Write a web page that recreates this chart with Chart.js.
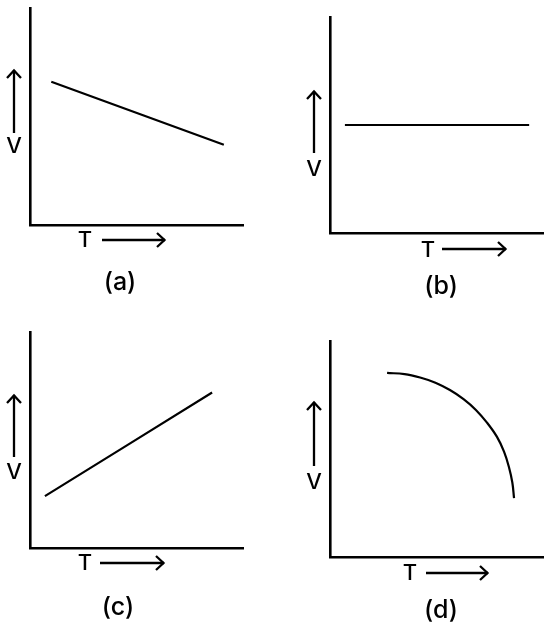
<!DOCTYPE html>
<html>
<head>
<meta charset="utf-8">
<script src="https://cdn.jsdelivr.net/npm/chart.js@4"></script>
<style>
  html, body { margin: 0; padding: 0; background: #fff; }
  #wrap { position: relative; width: 550px; height: 633px; }
  .panel { position: absolute; }
</style>
</head>
<body>
<div id="wrap">
  <div class="panel" style="left:0;top:0;width:275px;height:316px"><canvas id="chartA"></canvas></div>
  <div class="panel" style="left:275px;top:0;width:275px;height:316px"><canvas id="chartB"></canvas></div>
  <div class="panel" style="left:0;top:316px;width:275px;height:317px"><canvas id="chartC"></canvas></div>
  <div class="panel" style="left:275px;top:316px;width:275px;height:317px"><canvas id="chartD"></canvas></div>
</div>
<script>
// axis ranges (no numbers shown on the axes)
const xRange = [0, 10];
const yRange = [0, 10];

// (a) V falls as T rises
const seriesA = [{ x: 1.0, y: 6.6 }, { x: 9.1, y: 3.7 }];
// (b) V constant
const seriesB = [{ x: 0.7, y: 5.0 }, { x: 9.35, y: 5.0 }];
// (c) V rises with T
const seriesC = [{ x: 0.7, y: 2.4 }, { x: 8.55, y: 7.2 }];
// (d) curved drop
const seriesD = [
    { x: 2.68, y: 8.52 }, { x: 3.50, y: 8.47 }, { x: 4.23, y: 8.31 },
    { x: 4.95, y: 8.07 }, { x: 5.63, y: 7.73 }, { x: 6.27, y: 7.31 },
    { x: 6.85, y: 6.81 }, { x: 7.37, y: 6.22 }, { x: 7.84, y: 5.56 },
    { x: 8.17, y: 4.88 }, { x: 8.40, y: 4.17 }, { x: 8.56, y: 3.45 },
    { x: 8.64, y: 2.73 }
];

const captions = ['(a)', '(b)', '(c)', '(d)'];
const xLabel = 'T';
const yLabel = 'V';

// draws the V / T labels with their arrows and the caption under each panel
const labelPlugin = {
    id: 'panelLabels',
    afterDraw(chart, args, opts) {
        const { ctx, chartArea: a } = chart;
        ctx.save();
        ctx.strokeStyle = '#000';
        ctx.fillStyle = '#000';
        ctx.lineWidth = 2.3;
        ctx.lineCap = 'butt';
        ctx.lineJoin = 'miter';

        // vertical arrow for V
        const vx = a.left + opts.vArrow.dx;
        const vt = a.top + opts.vArrow.top;
        const vb = a.top + opts.vArrow.bottom;
        ctx.beginPath();
        ctx.moveTo(vx, vb);
        ctx.lineTo(vx, vt);
        ctx.stroke();
        ctx.beginPath();
        ctx.moveTo(vx - 7, vt + 8);
        ctx.lineTo(vx, vt + 0.5);
        ctx.lineTo(vx + 7, vt + 8);
        ctx.stroke();

        // horizontal arrow for T
        const ty = a.bottom + opts.tArrow.dy;
        const tl = a.left + opts.tArrow.left;
        const tr = a.left + opts.tArrow.right;
        ctx.beginPath();
        ctx.moveTo(tl, ty);
        ctx.lineTo(tr, ty);
        ctx.stroke();
        ctx.beginPath();
        ctx.moveTo(tr - 8, ty - 7);
        ctx.lineTo(tr - 0.5, ty);
        ctx.lineTo(tr - 8, ty + 7);
        ctx.stroke();

        ctx.textAlign = 'center';
        ctx.textBaseline = 'middle';
        ctx.font = '500 22px Inter, "Liberation Sans", sans-serif';
        ctx.fillText(yLabel, vx, a.top + opts.vText);
        ctx.fillText(xLabel, a.left + opts.tText.dx, a.bottom + opts.tText.dy);

        ctx.font = '500 25px Inter, "Liberation Sans", sans-serif';
        ctx.fillText(opts.caption, a.left + opts.capPos.dx, a.bottom + opts.capPos.dy);
        ctx.restore();
    }
};

function makeChart(id, data, padding, deco) {
    const ctx = document.getElementById(id).getContext('2d');
    return new Chart(ctx, {
        type: 'line',
        data: {
            datasets: [{
                data: data,
                borderColor: '#000',
                borderWidth: 2.2,
                pointRadius: 0,
                fill: false,
                tension: 0.4
            }]
        },
        options: {
            responsive: true,
            maintainAspectRatio: false,
            animation: false,
            events: [],
            layout: { padding: padding },
            plugins: {
                legend: { display: false },
                tooltip: { enabled: false },
                panelLabels: deco
            },
            scales: {
                x: {
                    type: 'linear',
                    min: xRange[0],
                    max: xRange[1],
                    ticks: { display: false },
                    grid: { display: false, drawTicks: false },
                    border: { display: true, color: '#000', width: 2.6 },
                    afterFit(scale) { scale.height = 0; }
                },
                y: {
                    type: 'linear',
                    min: yRange[0],
                    max: yRange[1],
                    ticks: { display: false },
                    grid: { display: false, drawTicks: false },
                    border: { display: true, color: '#000', width: 2.6 },
                    afterFit(scale) { scale.width = 0; }
                }
            }
        },
        plugins: [labelPlugin]
    });
}

makeChart('chartA', seriesA,
    { left: 30, top: 8, right: 32, bottom: 91 },
    { caption: captions[0], vArrow: { dx: -16, top: 62, bottom: 125 }, vText: 138,
      tArrow: { dy: 15, left: 72, right: 135 }, tText: { dx: 55, dy: 15 }, capPos: { dx: 90, dy: 57 } });

makeChart('chartB', seriesB,
    { left: 55, top: 17, right: 7, bottom: 83 },
    { caption: captions[1], vArrow: { dx: -16, top: 74, bottom: 136 }, vText: 152,
      tArrow: { dy: 16, left: 112, right: 176 }, tText: { dx: 98, dy: 17 }, capPos: { dx: 111, dy: 53 } });

makeChart('chartC', seriesC,
    { left: 30, top: 16, right: 32, bottom: 85 },
    { caption: captions[2], vArrow: { dx: -16, top: 63, bottom: 125 }, vText: 140,
      tArrow: { dy: 15, left: 70, right: 134 }, tText: { dx: 55, dy: 15 }, capPos: { dx: 88, dy: 59 } });

makeChart('chartD', seriesD,
    { left: 55, top: 25, right: 7, bottom: 76 },
    { caption: captions[3], vArrow: { dx: -16, top: 61, bottom: 125 }, vText: 141,
      tArrow: { dy: 16, left: 96, right: 158 }, tText: { dx: 80, dy: 16 }, capPos: { dx: 111, dy: 53 } });
</script>
</body>
</html>
